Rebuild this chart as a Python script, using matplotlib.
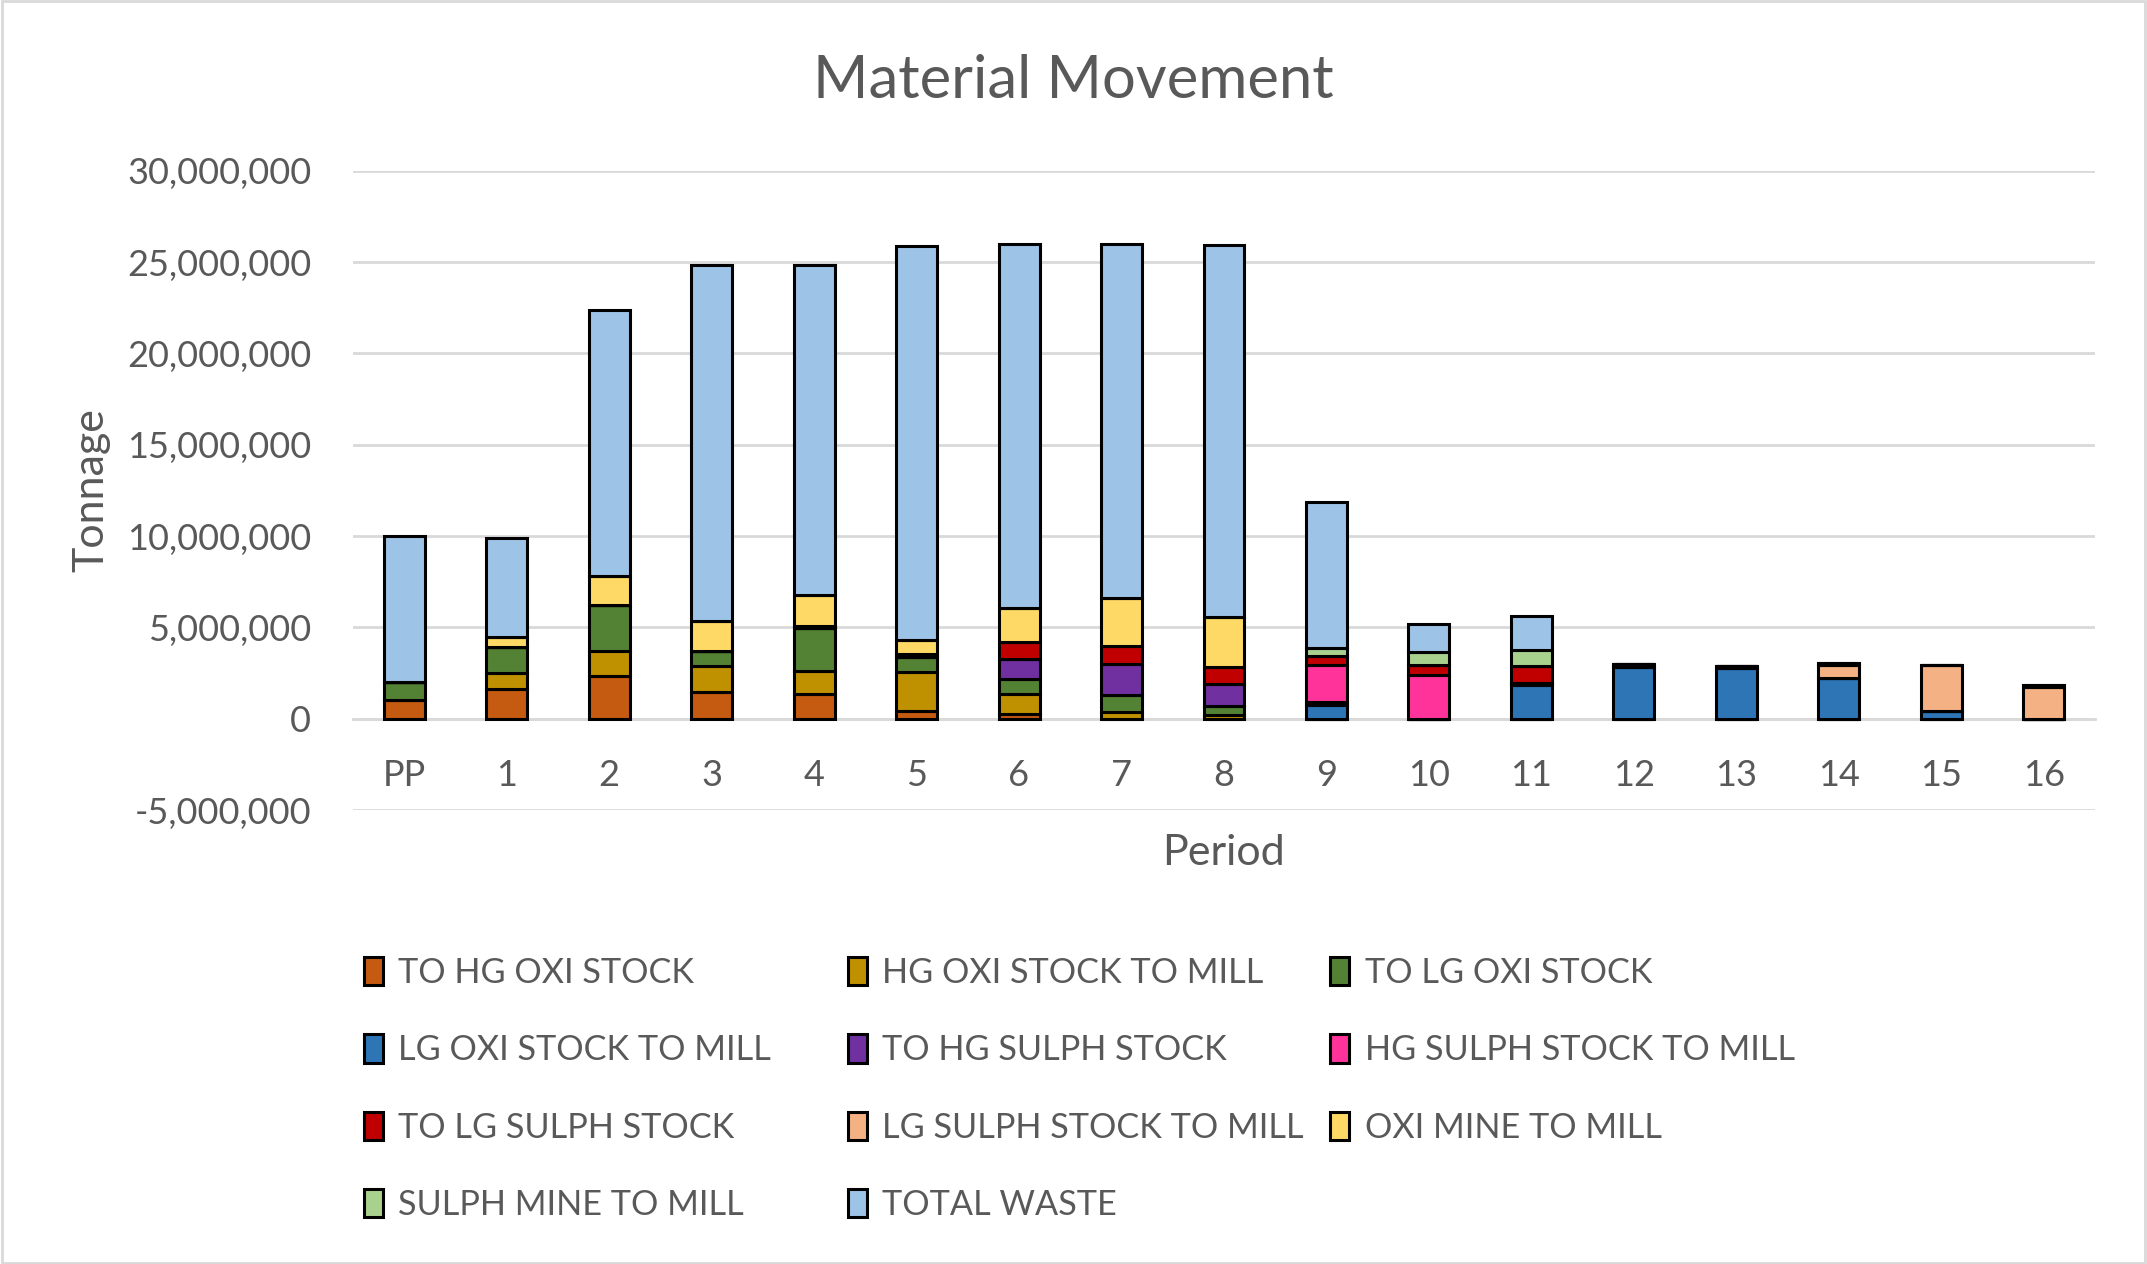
import matplotlib
matplotlib.use("Agg")
import matplotlib.pyplot as plt
import numpy as np
from matplotlib.ticker import FuncFormatter

plt.rcParams["font.family"] = ["Lato", "DejaVu Sans"]

# --- data (millions of tonnes) ---
periods = ["PP"] + [str(i) for i in range(1, 17)]

series_names = [
    "TO HG OXI STOCK", "HG OXI STOCK TO MILL", "TO LG OXI STOCK",
    "LG OXI STOCK TO MILL", "TO HG SULPH STOCK", "HG SULPH STOCK TO MILL",
    "TO LG SULPH STOCK", "LG SULPH STOCK TO MILL", "OXI MINE TO MILL",
    "SULPH MINE TO MILL", "TOTAL WASTE",
]
series_colors = [
    "#C55A11", "#BF9000", "#548235", "#2E75B6", "#7030A0", "#FF3399",
    "#C00000", "#F4B183", "#FFD966", "#A9D18E", "#9DC3E6",
]

to_hg_oxi      = [1.05, 1.63, 2.34, 1.47, 1.36, 0.45, 0.24, 0, 0, 0, 0, 0, 0, 0, 0, 0, 0]
hg_oxi_mill    = [0, 0.87, 1.37, 1.43, 1.25, 2.14, 1.12, 0.36, 0.20, 0, 0, 0, 0, 0, 0, 0, 0]
to_lg_oxi      = [0.96, 1.45, 2.50, 0.83, 2.34, 0.82, 0.81, 0.96, 0.50, 0, 0, 0, 0, 0, 0, 0, 0]
lg_oxi_mill    = [0, 0, 0, 0, 0, 0, 0, 0, 0, 0.76, 0, 1.88, 2.86, 2.79, 2.25, 0.43, 0]
to_hg_sulph    = [0, 0, 0, 0, 0, 0, 1.11, 1.68, 1.20, 0.18, 0, 0.10, 0, 0, 0, 0, 0]
hg_sulph_mill  = [0, 0, 0, 0, 0, 0, 0, 0, 0, 1.98, 2.39, 0, 0, 0, 0, 0, 0]
to_lg_sulph    = [0, 0, 0, 0, 0.15, 0.15, 0.90, 1.00, 0.93, 0.52, 0.58, 0.92, 0.12, 0.10, 0, 0, 0]
lg_sulph_mill  = [0, 0, 0, 0, 0, 0, 0, 0, 0, 0, 0, 0, 0, 0, 0.68, 2.54, 1.76]
oxi_mine_mill  = [0, 0.54, 1.63, 1.61, 1.66, 0.73, 1.89, 2.61, 2.77, 0, 0, 0, 0, 0, 0, 0, 0]
sulph_mine_mill = [0, 0, 0, 0, 0, 0, 0, 0, 0, 0.44, 0.69, 0.89, 0, 0, 0.10, 0, 0.12]
total_waste    = [7.97, 5.38, 14.55, 19.50, 18.08, 21.59, 19.89, 19.35, 20.34, 7.99, 1.52, 1.86, 0, 0, 0, 0, 0]

all_series = [to_hg_oxi, hg_oxi_mill, to_lg_oxi, lg_oxi_mill, to_hg_sulph,
              hg_sulph_mill, to_lg_sulph, lg_sulph_mill, oxi_mine_mill,
              sulph_mine_mill, total_waste]

text_col = "#595959"
grid_col = "#D9D9D9"

fig = plt.figure(figsize=(21.47, 12.64), dpi=100)
ax = fig.add_axes([0.1644, 0.359, 0.8114, 0.506])

x = np.arange(len(periods))
bottom = np.zeros(len(periods))
handles = []
for name, vals, col in zip(series_names, all_series, series_colors):
    v = np.array(vals) * 1e6
    b = ax.bar(x, v, 0.4, bottom=bottom, color=col, edgecolor="black",
               linewidth=2.2, label=name, zorder=3)
    handles.append(b)
    bottom += v

ax.set_ylim(-5e6, 3e7)
ax.set_xlim(-0.5, len(periods) - 0.5)
ax.set_yticks(np.arange(-5e6, 3.01e7, 5e6))
ax.yaxis.set_major_formatter(FuncFormatter(lambda v, p: f"{int(v):,}"))
ax.grid(axis="y", color=grid_col, linewidth=2, zorder=0)
ax.set_axisbelow(True)

for s in ["top", "right", "left"]:
    ax.spines[s].set_visible(False)
ax.spines["bottom"].set_position(("data", 0))
ax.spines["bottom"].set_color(grid_col)
ax.spines["bottom"].set_linewidth(2)

ax.set_xticks(x)
ax.set_xticklabels(periods)
ax.tick_params(axis="x", length=0, pad=29, labelsize=26, labelcolor=text_col)
ax.tick_params(axis="y", length=0, pad=30, labelsize=26, labelcolor=text_col)

ax.set_ylabel("Tonnage", fontsize=31, color=text_col, labelpad=12)
fig.text(0.570, 0.325, "Period", fontsize=31, color=text_col, ha="center", va="center")
fig.text(0.5, 0.936, "Material Movement", fontsize=43, color=text_col, ha="center", va="center")

# Excel fills the legend row by row, with equal column widths
col_x = [0.1695, 0.3949, 0.6197]
for c in range(3):
    idx = list(range(c, len(series_names), 3))
    leg = fig.legend([handles[i] for i in idx], [series_names[i] for i in idx],
                     loc="upper left", bbox_to_anchor=(col_x[c], 0.243),
                     frameon=False, fontsize=24.7, labelcolor=text_col,
                     handlelength=0.55, handleheight=0.9, handletextpad=0.45,
                     labelspacing=1.32, borderpad=0, borderaxespad=0)

fig.patches.append(plt.Rectangle((0.001, 0.001), 0.998, 0.998, transform=fig.transFigure,
                                 fill=False, edgecolor=grid_col, linewidth=2))

fig.savefig("out.png", dpi=100)
